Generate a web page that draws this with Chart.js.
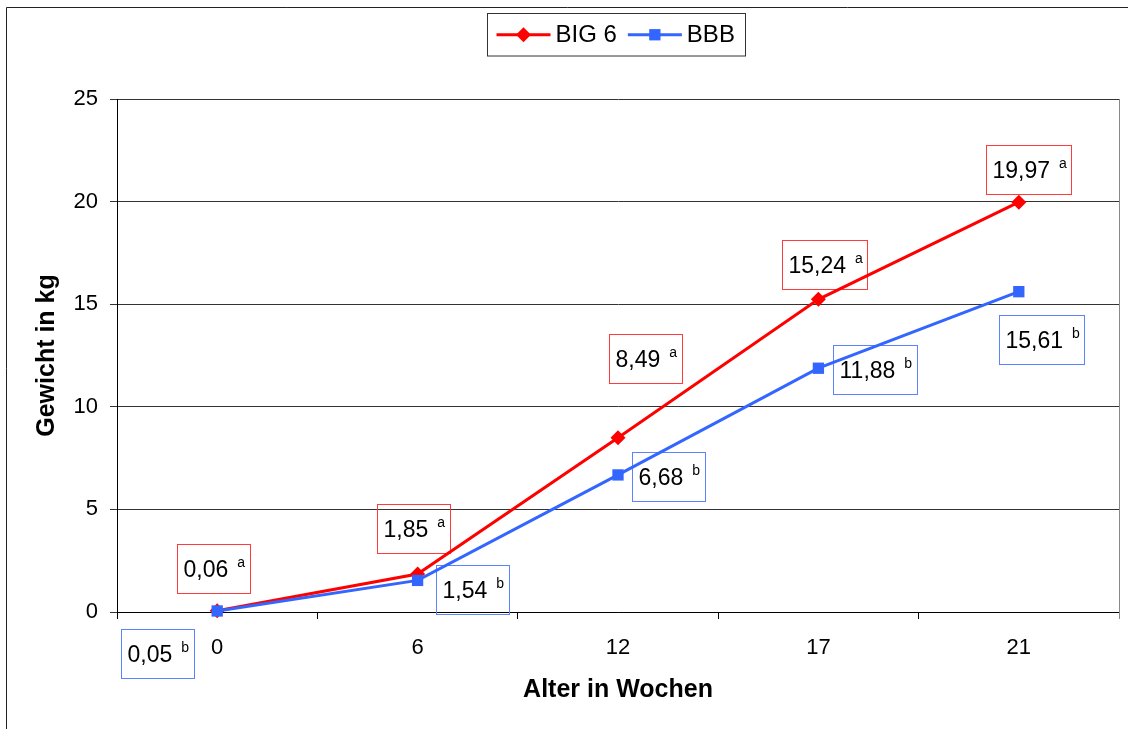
<!DOCTYPE html>
<html><head><meta charset="utf-8">
<script src="https://cdn.jsdelivr.net/npm/chart.js@4.4.1/dist/chart.umd.min.js"></script>
<style>html,body{margin:0;padding:0;background:#fff;} #wrap{position:relative;width:1128px;height:729px;}</style>
</head><body><div id="wrap"><canvas id="c" width="1128" height="729"></canvas></div>
<script>
// ---- data ----
const categories = ['0', '6', '12', '17', '21'];
const big6 = [0.06, 1.85, 8.49, 15.24, 19.97];
const bbb = [0.05, 1.54, 6.68, 11.88, 15.61];
const big6Labels = ['0,06', '1,85', '8,49', '15,24', '19,97'];
const bbbLabels = ['0,05', '1,54', '6,68', '11,88', '15,61'];
const big6Sup = 'a';
const bbbSup = 'b';
const seriesNames = ['BIG 6', 'BBB'];
const yMin = 0, yMax = 25, yStep = 5;
const xTitle = 'Alter in Wochen';
const yTitle = 'Gewicht in kg';

// ---- label placement (pixel offsets from the point) ----
const big6Offsets = [[-3.5, -42], [-4.5, -46], [27, -79], [6.5, -35], [9.5, -32.5]];
const bbbOffsets = [[-59.5, 43], [54.5, 9.6], [50, 2], [56.5, 1], [22.5, 48]];

const FONT = '"Liberation Sans", Arial, Helvetica, sans-serif';
const RED = '#ff0000', BLUE = '#3366ff';

function drawMarker(ctx, style, x, y, r, color) {
  ctx.save();
  ctx.fillStyle = color;
  ctx.beginPath();
  if (style === 'rectRot') {
    ctx.moveTo(x - r, y); ctx.lineTo(x, y - r); ctx.lineTo(x + r, y); ctx.lineTo(x, y + r);
  } else {
    const s = r * Math.SQRT1_2;
    ctx.rect(x - s, y - s, 2 * s, 2 * s);
  }
  ctx.closePath(); ctx.fill();
  ctx.restore();
}

function drawLabel(ctx, cx, cy, txt, sup, color) {
  ctx.save();
  ctx.font = '23px ' + FONT;
  const mw = ctx.measureText(txt).width;
  ctx.font = '14px ' + FONT;
  const sw = ctx.measureText(sup).width;
  const w = Math.round(6 + mw + 9 + sw + 5), h = 49;
  const x0 = Math.round(cx - w / 2) + 0.5, y0 = Math.round(cy - h / 2) + 0.5;
  ctx.strokeStyle = color; ctx.lineWidth = 1;
  ctx.strokeRect(x0, y0, w, h);
  ctx.fillStyle = '#000'; ctx.textAlign = 'left'; ctx.textBaseline = 'alphabetic';
  const base = y0 + h / 2 + 8.2;
  ctx.font = '23px ' + FONT;
  ctx.fillText(txt, x0 + 6, base);
  ctx.font = '14px ' + FONT;
  ctx.fillText(sup, x0 + 6 + mw + 9, base - 10);
  ctx.restore();
}

const deco = {
  id: 'deco',
  beforeDatasetsDraw(chart) {
    const ctx = chart.ctx, ca = chart.chartArea;
    ctx.save();
    ctx.strokeStyle = '#888'; ctx.lineWidth = 1;
    ctx.beginPath(); ctx.moveTo(Math.round(ca.right) + 0.5, ca.top); ctx.lineTo(Math.round(ca.right) + 0.5, ca.bottom + 7); ctx.stroke();
    ctx.restore();
    chart.data.datasets.forEach((ds, di) => {
      const meta = chart.getDatasetMeta(di);
      meta.data.forEach((pt, i) => {
        const off = ds.labelOffsets[i];
        drawLabel(ctx, pt.x + off[0], pt.y + off[1], ds.valueLabels[i], ds.sup, ds.boxColor);
      });
    });
  },
  afterDraw(chart) {
    const ctx = chart.ctx, ca = chart.chartArea;
    ctx.save();
    // outer frame (top and left edges)
    ctx.strokeStyle = '#222'; ctx.lineWidth = 1;
    ctx.beginPath(); ctx.moveTo(6.5, chart.height); ctx.lineTo(6.5, 7.5); ctx.lineTo(chart.width, 7.5); ctx.stroke();
    // axis titles
    ctx.fillStyle = '#000';
    ctx.font = 'bold 25px ' + FONT;
    ctx.textAlign = 'center'; ctx.textBaseline = 'middle';
    ctx.fillText(xTitle, (ca.left + ca.right) / 2, 690);
    ctx.save();
    ctx.translate(47, (ca.top + ca.bottom) / 2);
    ctx.rotate(-Math.PI / 2);
    ctx.fillText(yTitle, 0, 0);
    ctx.restore();
    // legend
    ctx.font = '24px ' + FONT;
    const items = chart.data.datasets.map(ds => ({ ds, tw: ctx.measureText(ds.label).width }));
    const lineLen = 54, padL = 9, padR = 11, gapText = 5, gapItem = 11;
    let total = padL + padR;
    items.forEach((it, i) => { total += lineLen + gapText + it.tw + (i < items.length - 1 ? gapItem : 0); });
    total = Math.round(total);
    const bx = Math.round((ca.left + ca.right) / 2 - 2 - total / 2) + 0.5, by = 13.5, bh = 42.5;
    ctx.strokeStyle = '#333'; ctx.lineWidth = 1;
    ctx.strokeRect(bx, by, total, bh);
    let x = bx + padL;
    const ly = by + bh / 2;
    items.forEach((it, i) => {
      ctx.strokeStyle = it.ds.borderColor; ctx.lineWidth = 3;
      ctx.beginPath(); ctx.moveTo(x, ly); ctx.lineTo(x + lineLen, ly); ctx.stroke();
      drawMarker(ctx, it.ds.pointStyle, x + lineLen / 2, ly, it.ds.pointRadius, it.ds.borderColor);
      x += lineLen + gapText;
      ctx.fillStyle = '#000'; ctx.textAlign = 'left'; ctx.textBaseline = 'middle';
      ctx.fillText(it.ds.label, x, ly + 1);
      x += it.tw + gapItem;
    });
    ctx.restore();
  }
};

new Chart(document.getElementById('c'), {
  type: 'line',
  data: {
    labels: categories,
    datasets: [
      {
        label: seriesNames[0], data: big6, borderColor: RED, backgroundColor: RED,
        borderWidth: 3, pointStyle: 'rectRot', pointRadius: 7.5, pointBorderWidth: 0,
        pointBackgroundColor: RED, tension: 0, clip: false, order: 2,
        valueLabels: big6Labels, sup: big6Sup, boxColor: '#ff3b3b', labelOffsets: big6Offsets
      },
      {
        label: seriesNames[1], data: bbb, borderColor: BLUE, backgroundColor: BLUE,
        borderWidth: 3, pointStyle: 'rect', pointRadius: 8, pointBorderWidth: 0,
        pointBackgroundColor: BLUE, tension: 0, clip: false, order: 1,
        valueLabels: bbbLabels, sup: bbbSup, boxColor: '#5b82ff', labelOffsets: bbbOffsets
      }
    ]
  },
  options: {
    responsive: false,
    animation: false,
    events: [],
    layout: { padding: { left: 0, right: 9, top: 99, bottom: 0 } },
    plugins: { legend: { display: false }, tooltip: { enabled: false } },
    scales: {
      x: {
        type: 'category', offset: true,
        grid: { offset: true, drawOnChartArea: false, drawTicks: true, tickLength: 7, color: '#000', lineWidth: 1 },
        border: { display: true, color: '#000', width: 1 },
        ticks: { font: { family: FONT, size: 22 }, color: '#000', padding: 16, maxRotation: 0 },
        afterFit(s) { s.height = 117; }
      },
      y: {
        min: yMin, max: yMax,
        ticks: { stepSize: yStep, font: { family: FONT, size: 22 }, color: '#000', padding: 12 },
        grid: { color: '#333', lineWidth: 1, drawTicks: true, tickLength: 7 },
        border: { display: true, color: '#000', width: 1 },
        afterFit(s) { s.width = 117; }
      }
    }
  },
  plugins: [deco]
});
</script>
</body></html>
